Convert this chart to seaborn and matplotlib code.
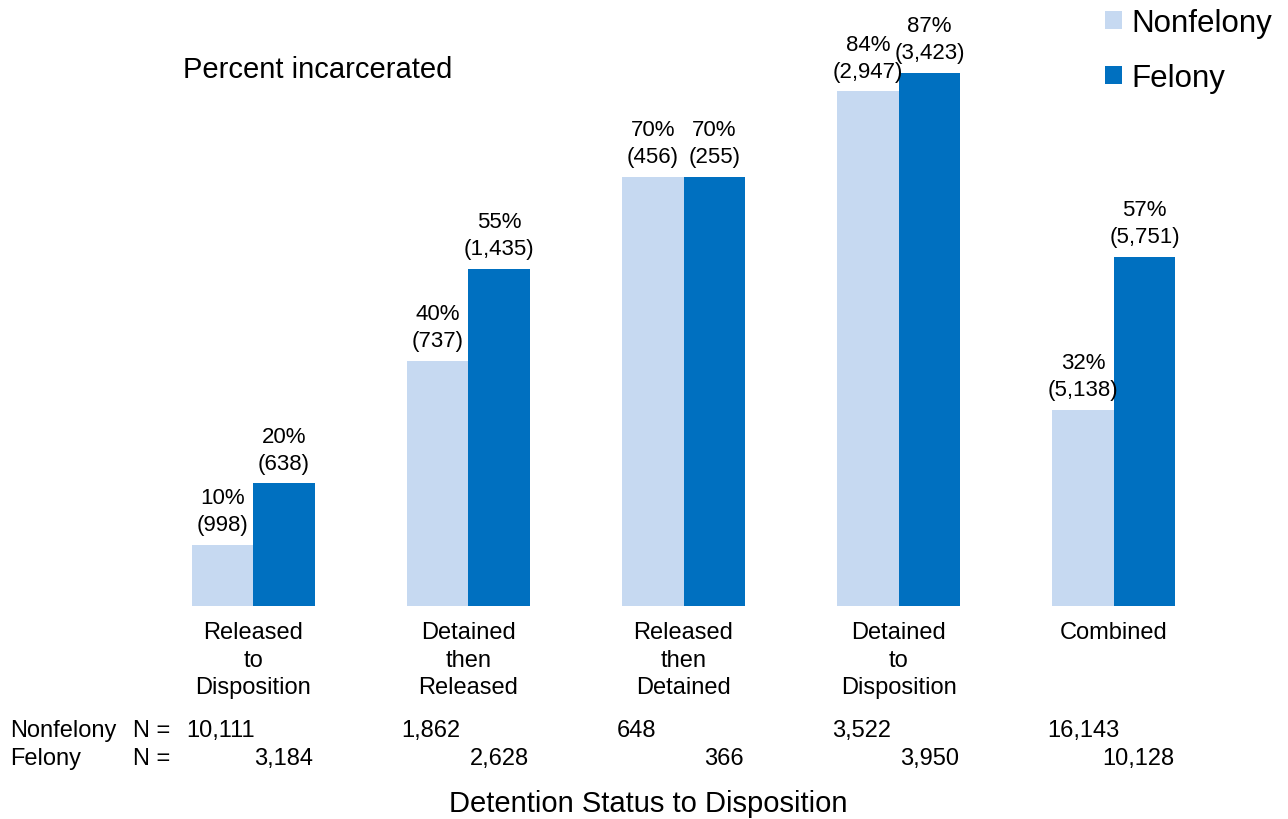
import matplotlib
matplotlib.use("Agg")
import matplotlib.pyplot as plt
import seaborn as sns
import pandas as pd
from matplotlib.patches import Patch
import matplotlib.transforms as mtransforms

categories = ["Released\nto\nDisposition", "Detained\nthen\nReleased",
              "Released\nthen\nDetained", "Detained\nto\nDisposition", "Combined"]
series = ["Nonfelony", "Felony"]
nonfelony_pct = [10, 40, 70, 84, 32]
felony_pct = [20, 55, 70, 87, 57]
nonfelony_count = ["998", "737", "456", "2,947", "5,138"]
felony_count = ["638", "1,435", "255", "3,423", "5,751"]
nonfelony_n = ["10,111", "1,862", "648", "3,522", "16,143"]
felony_n = ["3,184", "2,628", "366", "3,950", "10,128"]
colors = ["#C6D9F1", "#0070C0"]

sns.set_theme(style="white")
plt.rcParams["font.family"] = ["Liberation Sans", "DejaVu Sans"]
plt.rcParams["text.color"] = "black"
plt.rcParams["xtick.color"] = "black"
plt.rcParams["xtick.labelcolor"] = "black"

df = pd.DataFrame({
    "status": categories * 2,
    "type": [series[0]] * 5 + [series[1]] * 5,
    "pct": nonfelony_pct + felony_pct,
})

fig = plt.figure(figsize=(12.88, 8.2), dpi=100)
ax = fig.add_axes([0.113, 0.2598, 0.8354, 0.7098])
sns.barplot(data=df, x="status", y="pct", hue="type", order=categories,
            hue_order=series, palette=colors, width=0.572, saturation=1,
            linewidth=0, ax=ax, legend=False)
ax.set_ylim(0, 95)
ax.set_xlim(-0.5, 4.5)
for s in ax.spines.values():
    s.set_visible(False)
ax.set_yticks([])
ax.set_xlabel("")
ax.set_ylabel("")
ax.tick_params(axis="x", length=0, pad=11, labelsize=17, labelcolor="black")
for lbl in ax.get_xticklabels():
    lbl.set_linespacing(1.33)

labels_nf = [f"{p}%\n({c})" for p, c in zip(nonfelony_pct, nonfelony_count)]
labels_f = [f"{p}%\n({c})" for p, c in zip(felony_pct, felony_count)]
ax.bar_label(ax.containers[0], labels=labels_nf, padding=7, fontsize=16,
             linespacing=1.38, color="black")
ax.bar_label(ax.containers[1], labels=labels_f, padding=7, fontsize=16,
             linespacing=1.38, color="black")

fig.text(183 / 1288, 1 - 70 / 820, "Percent incarcerated", fontsize=21,
         va="center", ha="left", color="black")

# N table
trans = mtransforms.blended_transform_factory(ax.transData, fig.transFigure)
y1 = 1 - 731 / 820
y2 = 1 - 759 / 820
fs = 17
fig.text(10 / 1288, y1, "Nonfelony", fontsize=fs, va="center", color="black")
fig.text(133 / 1288, y1, "N =", fontsize=fs, va="center", color="black")
fig.text(10 / 1288, y2, "Felony", fontsize=fs, va="center", color="black")
fig.text(133 / 1288, y2, "N =", fontsize=fs, va="center", color="black")
for i, (a, b) in enumerate(zip(nonfelony_n, felony_n)):
    ax.text(i - 0.31, y1, a, transform=trans, fontsize=fs, va="center", ha="left",
            color="black")
    ax.text(i + 0.28, y2, b, transform=trans, fontsize=fs, va="center", ha="right",
            color="black")

fig.text(648 / 1288, 1 - 804 / 820, "Detention Status to Disposition", fontsize=21,
         ha="center", va="center", color="black")

handles = [Patch(facecolor=c, edgecolor="none") for c in colors]
leg = fig.legend(handles, series, loc="upper right", bbox_to_anchor=(1.0, 1.008),
                 frameon=False, fontsize=22.5, handlelength=0.55, handleheight=0.55,
                 handletextpad=0.3, labelspacing=0.8, borderaxespad=0.1)
for t in leg.get_texts():
    t.set_color("black")

fig.savefig("out.png", dpi=100)
